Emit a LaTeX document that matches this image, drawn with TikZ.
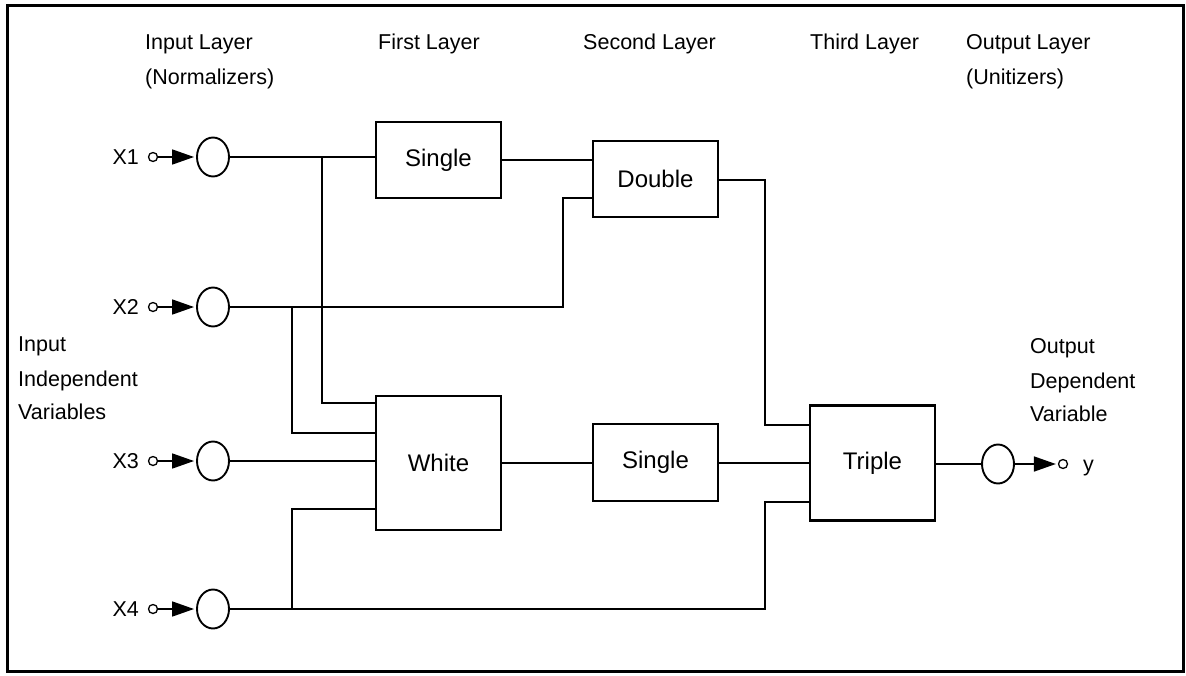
\documentclass[tikz,border=0pt]{standalone}
\usepackage{fontspec}
\setmainfont{Liberation Sans}
\usetikzlibrary{shapes.geometric,arrows.meta}
\begin{document}
\begin{tikzpicture}[x=1pt,y=-1pt,
  wire/.style={line width=1.8pt},
  blk/.style={draw,line width=2.2pt,rectangle,inner sep=0pt,font=\fontsize{24}{28}\selectfont},
  neuron/.style={draw,line width=1.9pt,ellipse,minimum width=32pt,minimum height=39pt,inner sep=0pt},
  term/.style={draw,line width=1.3pt,circle,minimum size=9pt,inner sep=0pt,fill=white},
  lbl/.style={font=\fontsize{21.5}{26}\selectfont,inner sep=0pt,anchor=base west},
  xlbl/.style={font=\fontsize{21.5}{26}\selectfont,inner sep=0pt,anchor=east},
  feed/.style={line width=1.7pt,-{Triangle[length=22pt,width=15pt]},shorten >=2pt}
]
\useasboundingbox (0,0) rectangle (1186,675);
\draw[line width=3pt] (7,5) rectangle (1183,671);

% headings
\node[lbl] (h1) at (145,49) {Input Layer};
\node[lbl] (h1b) at (145,84) {(Normalizers)};
\node[lbl] (h2) at (378,49) {First Layer};
\node[lbl] (h3) at (583,49) {Second Layer};
\node[lbl] (h4) at (810,49) {Third Layer};
\node[lbl] (h5) at (966,49) {Output Layer};
\node[lbl] (h5b) at (966,84) {(Unitizers)};

\node[lbl] (in1) at (18,351) {Input};
\node[lbl] (in2) at (18,386) {Independent};
\node[lbl] (in3) at (18,419) {Variables};

\node[lbl] (out1) at (1030,353) {Output};
\node[lbl] (out2) at (1030,388) {Dependent};
\node[lbl] (out3) at (1030,421) {Variable};

% input neurons
\foreach \i/\y in {1/157,2/307,3/461,4/609}{
  \node[neuron] (n\i) at (213,\y) {};
  \node[term] (t\i) at (153,\y) {};
  \node[xlbl] (x\i) at (139,\y) {X\i};
  \draw[feed] (t\i) -- (n\i);
}

% boxes
\node[blk,minimum width=125pt,minimum height=76pt] (s1) at (438.5,160) {Single};
\node[blk,minimum width=125pt,minimum height=76pt] (d) at (655.5,179) {Double};
\node[blk,minimum width=125pt,minimum height=134pt] (w) at (438.5,463) {White};
\node[blk,minimum width=125pt,minimum height=77pt] (s2) at (655.5,462.5) {Single};
\node[blk,minimum width=125pt,minimum height=115pt] (t) at (872.5,463) {Triple};

% output
\node[neuron] (no) at (998,464) {};
\node[term] (ty) at (1063,464) {};
\node[font=\fontsize{21.5}{26}\selectfont,inner sep=0pt,anchor=base west] (y) at (1083,471) {y};
\draw[feed] (no) -- (ty);

% connectors
\coordinate (b1) at (322,157);
\coordinate (b2) at (292,307);
\coordinate (b4) at (292,609);
\coordinate (j2) at (563,307);
\coordinate (j4) at (765,609);
\coordinate (jd) at (765,180);

\draw[wire] (n1.east) -- (n1.east -| s1.west);
\draw[wire] (b1) -- (322,403) -- (322,403 -| w.west);
\draw[wire] (s1.east |- 0,160) -- (d.west |- 0,160);
\draw[wire] (n2.east) -- (j2) -- (563,198) -- (d.west |- 0,198);
\draw[wire] (b2) -- (292,433) -- (w.west |- 0,433);
\draw[wire] (n3.east) -- (n3.east -| w.west);
\draw[wire] (n4.east) -- (j4) -- (765,502) -- (t.west |- 0,502);
\draw[wire] (b4) -- (292,509) -- (w.west |- 0,509);
\draw[wire] (d.east |- jd) -- (jd) -- (765,425) -- (t.west |- 0,425);
\draw[wire] (w.east |- 0,463) -- (s2.west |- 0,463);
\draw[wire] (s2.east |- 0,463) -- (t.west |- 0,463);
\draw[wire] (t.east |- 0,464) -- (no.west);
\end{tikzpicture}
\end{document}
